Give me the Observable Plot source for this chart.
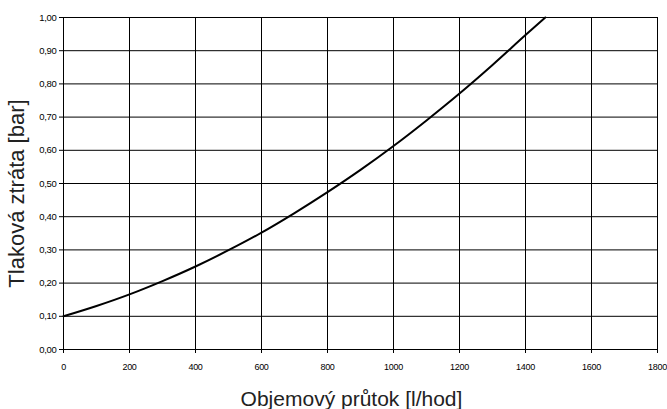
<!DOCTYPE html>
<html>
<head>
<meta charset="utf-8">
<script src="https://cdn.jsdelivr.net/npm/d3@7"></script>
<script src="https://cdn.jsdelivr.net/npm/@observablehq/plot@0.6"></script>
<style>
  html, body { margin: 0; padding: 0; background: #fff; }
  svg { display: block; }
  svg g[aria-label="x-axis tick label"] text, svg g[aria-label="y-axis tick label"] text { letter-spacing: -0.3px; }
</style>
</head>
<body>
<div id="chart"></div>
<script>
const flow = [0, 100, 200, 300, 400, 500, 600, 700, 800, 900, 1000, 1100, 1200, 1300, 1400, 1460];
const loss = [0.100, 0.131, 0.166, 0.206, 0.250, 0.299, 0.352, 0.411, 0.474, 0.541, 0.613, 0.690, 0.771, 0.857, 0.947, 1.000];
const xTicks = [0, 200, 400, 600, 800, 1000, 1200, 1400, 1600, 1800];
const yTicks = [0, 0.1, 0.2, 0.3, 0.4, 0.5, 0.6, 0.7, 0.8, 0.9, 1.0];
const xLabel = "Objemový průtok [l/hod]";
const yLabel = "Tlaková ztráta [bar]";

const data = flow.map((f, i) => ({flow: f, loss: loss[i]}));
const fmt = d => d.toFixed(2).replace(".", ",");

const plot = Plot.plot({
  width: 667,
  height: 409,
  marginLeft: 63,
  marginRight: 10,
  marginTop: 17,
  marginBottom: 60,
  style: {fontFamily: "'Liberation Sans', Arial, sans-serif", background: "#fff", color: "#000"},
  x: {domain: [0, 1800]},
  y: {domain: [0, 1]},
  marks: [
    Plot.gridX(xTicks, {stroke: "#000", strokeOpacity: 1, strokeWidth: 1}),
    Plot.gridY(yTicks, {stroke: "#000", strokeOpacity: 1, strokeWidth: 1}),
    Plot.frame({stroke: "#000", strokeWidth: 1}),
    Plot.axisX(xTicks, {label: null, tickSize: 4, tickPadding: 10, fontSize: 9, tickFormat: d => String(d)}),
    Plot.axisY(yTicks, {label: null, tickSize: 4, tickPadding: 3, fontSize: 9.5, tickFormat: fmt}),
    Plot.line(data, {x: "flow", y: "loss", stroke: "#000", strokeWidth: 2, curve: "monotone-x"}),
    Plot.text([yLabel], {frameAnchor: "left", textAnchor: "middle", rotate: -90, dx: -47, dy: 10, fontSize: 22, fill: "#222"}),
    Plot.text([xLabel], {frameAnchor: "bottom", dx: -9, dy: 56, fontSize: 21, fill: "#222"})
  ]
});
document.getElementById("chart").appendChild(plot);
</script>
</body>
</html>
